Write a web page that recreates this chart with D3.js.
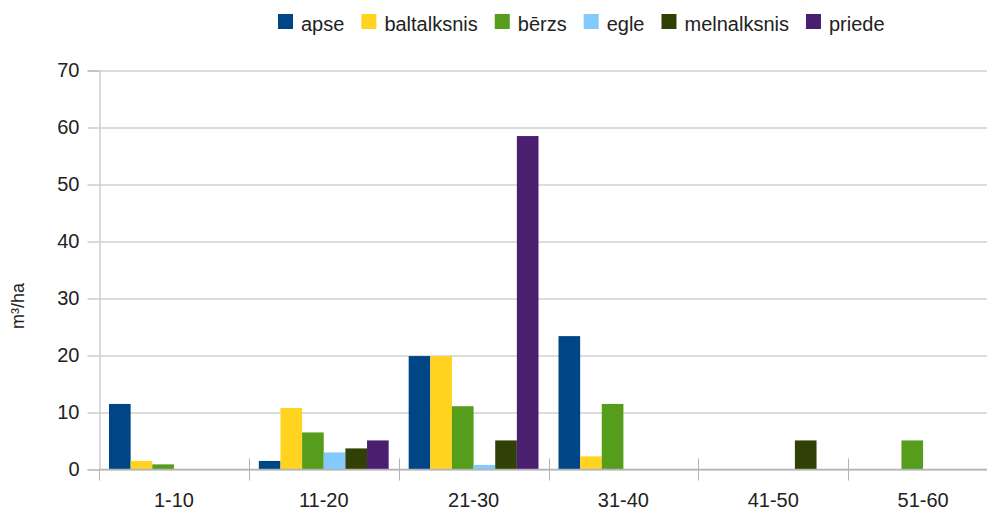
<!DOCTYPE html>
<html>
<head>
<meta charset="utf-8">
<script src="https://cdn.jsdelivr.net/npm/d3@7"></script>
<style>
  body { margin: 0; background: #fff; }
  text { font-family: "Liberation Sans", Arial, sans-serif; fill: #222; }
</style>
</head>
<body>
<div class="chart"></div>
<script>
const groups = ['1-10', '11-20', '21-30', '31-40', '41-50', '51-60'];
const species = ['apse', 'baltalksnis', 'bērzs', 'egle', 'melnalksnis', 'priede'];
const colors = ['#004586', '#ffd320', '#579d1c', '#83caff', '#314004', '#4b1f6f'];

// values per species, one per age group
const apse        = [11.5, 1.5, 19.9, 23.4, 0, 0];
const baltalksnis = [1.5, 10.8, 19.9, 2.3, 0, 0];
const berzs       = [0.9, 6.5, 11.1, 11.5, 0, 5.1];
const egle        = [0, 3.0, 0.8, 0, 0, 0];
const melnalksnis = [0, 3.7, 5.1, 0, 5.1, 0];
const priede      = [0, 5.1, 58.5, 0, 0, 0];
const seriesValues = [apse, baltalksnis, berzs, egle, melnalksnis, priede];

const yTicks = [0, 10, 20, 30, 40, 50, 60, 70];

const width = 987;
const height = 510;

const svg = d3.select(".chart")
  .append("svg")
    .attr("width", width)
    .attr("height", height);

// scales
const xScale = d3.scaleBand()
  .domain(groups)
  .range([99, 998])
  .padding(0);

const xInner = d3.scaleBand()
  .domain(species)
  .range([10, xScale.bandwidth() - 10])
  .padding(0);

const yScale = d3.scaleLinear()
  .domain([0, 70])
  .range([469.5, 70.5]);

const color = d3.scaleOrdinal()
  .domain(species)
  .range(colors);

// gridlines + y axis
const yAxis = svg.append("g")
  .attr("transform", "translate(99.5,0)")
  .call(d3.axisLeft(yScale).tickValues(yTicks).tickSize(12).tickPadding(8));
yAxis.select(".domain").attr("stroke", "#b3b3b3");
yAxis.selectAll(".tick line").attr("stroke", "#b3b3b3");
yAxis.selectAll(".tick").append("line")
  .attr("x1", 0)
  .attr("x2", width)
  .attr("stroke", "#d0d0d0")
  .attr("stroke-width", 1.5);
yAxis.selectAll(".tick text")
  .style("font-size", "20px")
  .attr("fill", "#222");

// bars
const barG = svg.append("g");
species.forEach((s, si) => {
  barG.selectAll(".bar-" + si)
    .data(seriesValues[si].map((v, gi) => ({ group: groups[gi], value: v })))
    .enter().append("rect")
      .attr("x", d => xScale(d.group) + xInner(s))
      .attr("y", d => yScale(d.value))
      .attr("width", xInner.bandwidth())
      .attr("height", d => yScale(0) - yScale(d.value))
      .attr("fill", color(s));
});

// x axis
const xAxis = svg.append("g")
  .attr("transform", `translate(0,${yScale(0)})`)
  .call(d3.axisBottom(xScale).tickSize(0).tickPadding(23));
xAxis.select(".domain").remove();
xAxis.append("line")
  .attr("x1", 99).attr("x2", width)
  .attr("stroke", "#b3b3b3").attr("stroke-width", 1.5);
xAxis.selectAll(".tick text")
  .style("font-size", "20px")
  .attr("fill", "#222");
// category separators
const bounds = groups.map(g => xScale(g)).concat([xScale.range()[1]]);
xAxis.selectAll(".sep")
  .data(bounds)
  .enter().append("line")
    .attr("x1", d => Math.round(d) + 0.5)
    .attr("x2", d => Math.round(d) + 0.5)
    .attr("y1", (d, i) => i === 0 ? 0 : -11)
    .attr("y2", 11)
    .attr("stroke", "#b3b3b3");

// y label
svg.append("text")
  .attr("transform", "translate(24,306) rotate(-90)")
  .attr("text-anchor", "middle")
  .style("font-size", "18px")
  .text("m³/ha");

// legend
const legend = svg.append("g").attr("transform", "translate(278,0)");
let lx = 0;
species.forEach((s, i) => {
  const item = legend.append("g").attr("transform", `translate(${lx},0)`);
  item.append("rect")
    .attr("x", 0).attr("y", 14)
    .attr("width", 15).attr("height", 15)
    .attr("fill", color(s));
  const t = item.append("text")
    .attr("x", 23).attr("y", 31)
    .style("font-size", "20px")
    .text(s);
  lx += 23 + t.node().getComputedTextLength() + 17;
});
</script>
</body>
</html>
